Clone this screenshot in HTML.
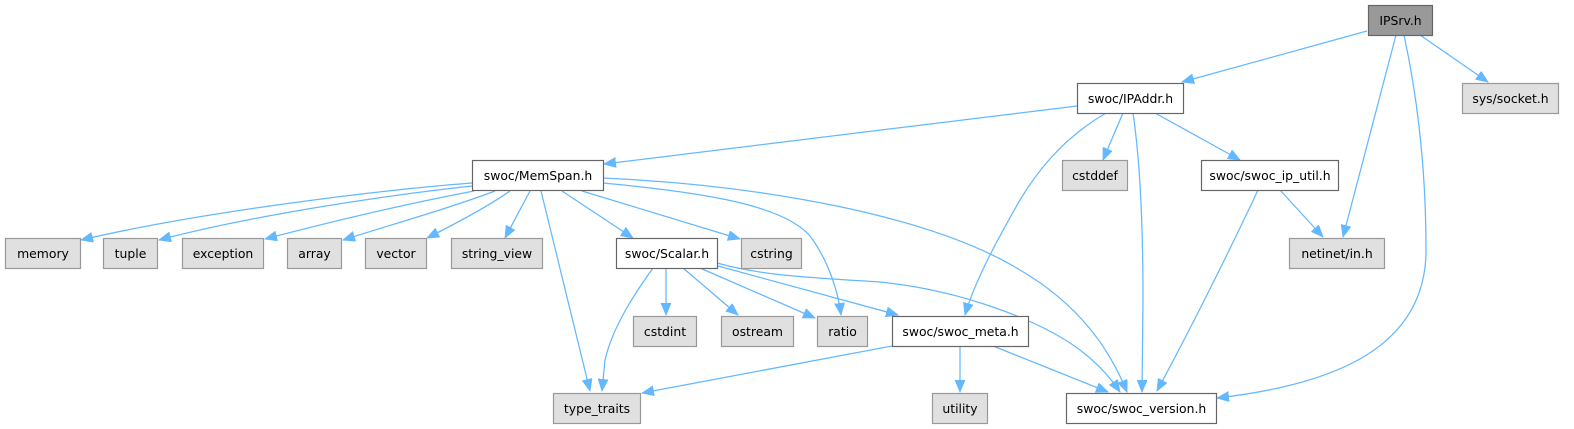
<!DOCTYPE html>
<html><head><meta charset="utf-8"><style>
html,body{margin:0;padding:0;background:#fff;}
svg{display:block;}
text{font-family:"DejaVu Sans","Liberation Sans",sans-serif;font-size:12.4px;fill:#000;text-anchor:middle;}
.e{fill:none;stroke:#63b8ff;stroke-width:1.25;marker-end:url(#a);}
.w{fill:#fff;stroke:#666;stroke-width:1.2;}
.g{fill:#e0e0e0;stroke:#999;stroke-width:1.2;}
</style></head><body>
<svg width="1574" height="429" viewBox="0 0 1574 429" xmlns="http://www.w3.org/2000/svg">
<defs><marker id="a" markerUnits="userSpaceOnUse" markerWidth="14" markerHeight="12" refX="12" refY="5" orient="auto"><path d="M0,0 L12,5 L0,10 z" fill="#63b8ff" stroke="#63b8ff" stroke-width="0.8"/></marker></defs>

<!-- edges -->
<path class="e" d="M1367,31 L1182,82"/>
<path class="e" d="M1420,35 L1488,82"/>
<path class="e" d="M1396,35 L1343,237"/>
<path class="e" d="M1404,35 C1418,100 1426,170 1426,250 C1426,350 1330,385 1217,398"/>
<path class="e" d="M1077,106 L604,164"/>
<path class="e" d="M1123,113 L1103,160"/>
<path class="e" d="M1133,113 C1140,160 1143,220 1143,300 L1142,392"/>
<path class="e" d="M1155,113 L1240,160"/>
<path class="e" d="M1106,113 C1060,140 1035,175 1020,200 C1000,235 975,280 965,315"/>
<path class="e" d="M1280,190 L1323,237"/>
<path class="e" d="M1258,190 C1230,250 1190,330 1157,391"/>

<path class="e" d="M472,183 C380,190 200,212 81,240"/>
<path class="e" d="M472,186 C380,196 250,216 159,240"/>
<path class="e" d="M474,191 C400,205 330,222 265,239"/>
<path class="e" d="M495,191 C450,208 390,225 343,240"/>
<path class="e" d="M510,191 C490,205 455,224 427,238"/>
<path class="e" d="M530,191 L505,238"/>
<path class="e" d="M541,191 L590,391"/>
<path class="e" d="M562,191 L633,238"/>
<path class="e" d="M582,191 L740,239"/>
<path class="e" d="M603,183 C700,192 790,205 813,240 C828,262 838,290 841,315"/>
<path class="e" d="M603,178 C760,185 930,215 1020,270 C1080,305 1110,350 1127,392"/>

<path class="e" d="M653,268 C630,300 612,330 605,360 L602,391"/>
<path class="e" d="M666,268 L666,315"/>
<path class="e" d="M683,268 L738,315"/>
<path class="e" d="M700,268 L815,318"/>
<path class="e" d="M718,266 L898,315"/>
<path class="e" d="M717,263 C760,275 800,277 880,282 C960,290 1040,320 1080,350 C1100,365 1112,380 1120,392"/>

<path class="e" d="M892,346 L642,393"/>
<path class="e" d="M960,346 L960,392"/>
<path class="e" d="M993,346 L1108,392"/>

<!-- nodes -->
<rect x="1368.5" y="5.5" width="64" height="30" fill="#999" stroke="#666" stroke-width="1.2"/><text x="1400.5" y="25">IPSrv.h</text>
<rect class="w" x="1077.5" y="83.5" width="106" height="30"/><text x="1130.5" y="103">swoc/IPAddr.h</text>
<rect class="g" x="1462.5" y="83.5" width="96" height="30"/><text x="1510.5" y="103">sys/socket.h</text>
<rect class="g" x="1062.5" y="160.5" width="65" height="30"/><text x="1095" y="180">cstddef</text>
<rect class="w" x="1201.5" y="160.5" width="137" height="30"/><text x="1270" y="180">swoc/swoc_ip_util.h</text>
<rect class="w" x="472.5" y="160.5" width="131" height="30"/><text x="538" y="180">swoc/MemSpan.h</text>

<rect class="g" x="5.5" y="238.5" width="75" height="30"/><text x="43" y="258">memory</text>
<rect class="g" x="103.5" y="238.5" width="54" height="30"/><text x="130.5" y="258">tuple</text>
<rect class="g" x="182.5" y="238.5" width="81" height="30"/><text x="223" y="258">exception</text>
<rect class="g" x="287.5" y="238.5" width="54" height="30"/><text x="314.5" y="258">array</text>
<rect class="g" x="365.5" y="238.5" width="61" height="30"/><text x="396" y="258">vector</text>
<rect class="g" x="451.5" y="238.5" width="91" height="30"/><text x="497" y="258">string_view</text>
<rect class="w" x="616.5" y="238.5" width="101" height="30"/><text x="667" y="258">swoc/Scalar.h</text>
<rect class="g" x="741.5" y="238.5" width="60" height="30"/><text x="771.5" y="258">cstring</text>
<rect class="g" x="1289.5" y="238.5" width="95" height="30"/><text x="1337" y="258">netinet/in.h</text>

<rect class="g" x="633.5" y="316.5" width="63" height="30"/><text x="665" y="336">cstdint</text>
<rect class="g" x="721.5" y="316.5" width="72" height="30"/><text x="757.5" y="336">ostream</text>
<rect class="g" x="817.5" y="316.5" width="50" height="30"/><text x="842.5" y="336">ratio</text>
<rect class="w" x="892.5" y="316.5" width="136" height="30"/><text x="960.5" y="336">swoc/swoc_meta.h</text>

<rect class="g" x="553.5" y="393.5" width="87" height="30"/><text x="597" y="413">type_traits</text>
<rect class="g" x="932.5" y="393.5" width="55" height="30"/><text x="960" y="413">utility</text>
<rect class="w" x="1066.5" y="393.5" width="150" height="30"/><text x="1141.5" y="413">swoc/swoc_version.h</text>
</svg>
</body></html>
